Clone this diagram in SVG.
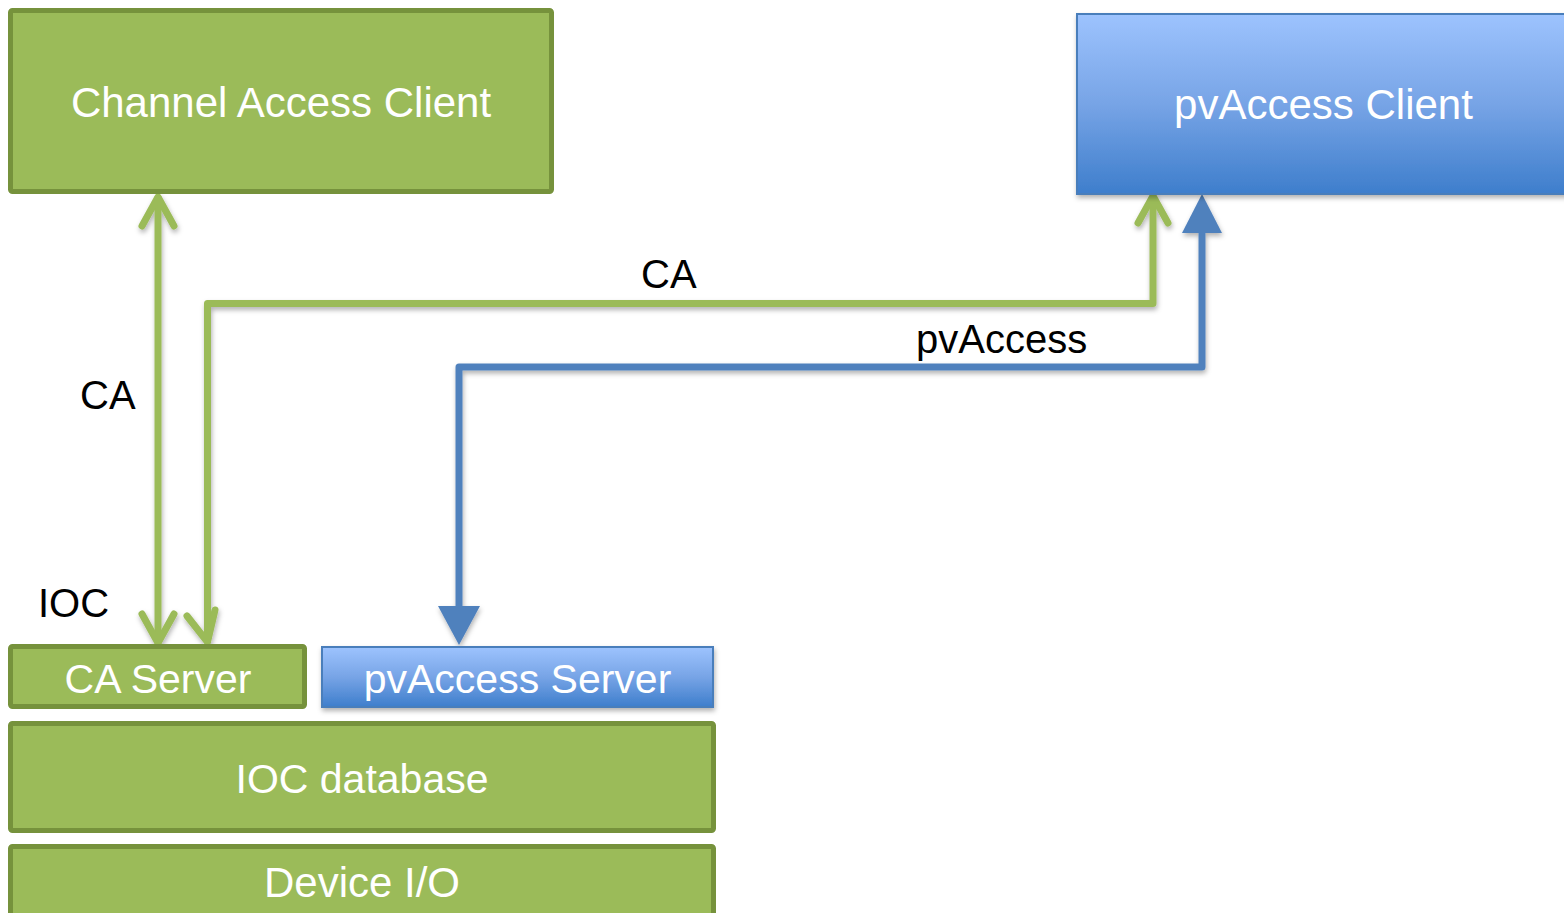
<svg xmlns="http://www.w3.org/2000/svg" width="1564" height="913" viewBox="0 0 1564 913">
  <defs>
    <linearGradient id="blueGrad" x1="0" y1="0" x2="0" y2="1">
      <stop offset="0" stop-color="#9DC3FE"/>
      <stop offset="0.5" stop-color="#77A4E6"/>
      <stop offset="1" stop-color="#3E7ECC"/>
    </linearGradient>
    <filter id="shadow" x="-10%" y="-10%" width="120%" height="130%">
      <feDropShadow dx="1" dy="3" stdDeviation="2.5" flood-color="#000" flood-opacity="0.3"/>
    </filter>
  </defs>
  <style>
    .green { fill: #9BBB59; stroke: #76923C; stroke-width: 5; }
    .blue { fill: url(#blueGrad); stroke: #4A7EBB; stroke-width: 2; filter: url(#shadow); }
    .boxtext { font-family: "Liberation Sans", Arial, sans-serif; font-size: 42px; fill: #FFFFFF; text-anchor: middle; }
    .label { font-family: "Liberation Sans", Arial, sans-serif; font-size: 40px; fill: #000000; }
    .gline { fill: none; stroke: #9BBB59; stroke-width: 7; stroke-linecap: round; stroke-linejoin: round; }
    .bline { fill: none; stroke: #4F81BD; stroke-width: 7; stroke-linecap: round; stroke-linejoin: round; }
    .bhead { fill: #4F81BD; stroke: none; }
  </style>
  <rect width="1564" height="913" fill="#FFFFFF"/>

  <g id="connectors" filter="url(#shadow)">
    <!-- CA client <-> CA server -->
    <path class="gline" d="M158,198 L158,642"/>
    <path class="gline" d="M142,226 L158,197 L174,226"/>
    <path class="gline" d="M142,614 L158,643 L174,614"/>
    <!-- CA server <-> pvAccess client (CA) -->
    <path class="gline" d="M207.5,641 L207.5,303.5 L1153,303.5 L1153,198"/>
    <path class="gline" d="M1138,223 L1153,196 L1168,223"/>
    <path class="gline" d="M187,616 L207.5,642 L215,610"/>
    <!-- pvAccess -->
    <path class="bline" d="M1202,230 L1202,367 L459,367 L459,610"/>
    <polygon class="bhead" points="1202,194 1222,233 1182,233"/>
    <polygon class="bhead" points="459,645 480,606 438,606"/>
  </g>

  <g id="label-ca-left"><text class="label" x="80" y="409">CA</text></g>
  <g id="label-ioc"><text class="label" x="38" y="617">IOC</text></g>
  <g id="label-ca-top"><text class="label" x="641" y="288">CA</text></g>
  <g id="label-pvaccess"><text class="label" x="916" y="353">pvAccess</text></g>

  <g id="channel-access-client">
    <rect class="green" x="10.5" y="10.5" width="541" height="181" rx="2"/>
    <text class="boxtext" x="281" y="117">Channel Access Client</text>
  </g>

  <g id="pvaccess-client">
    <rect class="blue" x="1077" y="14" width="500" height="180"/>
    <text class="boxtext" x="1323.5" y="119">pvAccess Client</text>
  </g>

  <g id="ca-server">
    <rect class="green" x="10.5" y="646.5" width="294" height="60" rx="2"/>
    <text class="boxtext" x="158" y="693" style="font-size:41px">CA Server</text>
  </g>

  <g id="pvaccess-server">
    <rect class="blue" x="322" y="647" width="391" height="60"/>
    <text class="boxtext" x="517.5" y="693" style="font-size:41px">pvAccess Server</text>
  </g>

  <g id="ioc-database">
    <rect class="green" x="10.5" y="723.5" width="703" height="107" rx="2"/>
    <text class="boxtext" x="362" y="793" style="font-size:41px">IOC database</text>
  </g>

  <g id="device-io">
    <rect class="green" x="10.5" y="846.5" width="703" height="90" rx="2"/>
    <text class="boxtext" x="362" y="897">Device I/O</text>
  </g>
</svg>
